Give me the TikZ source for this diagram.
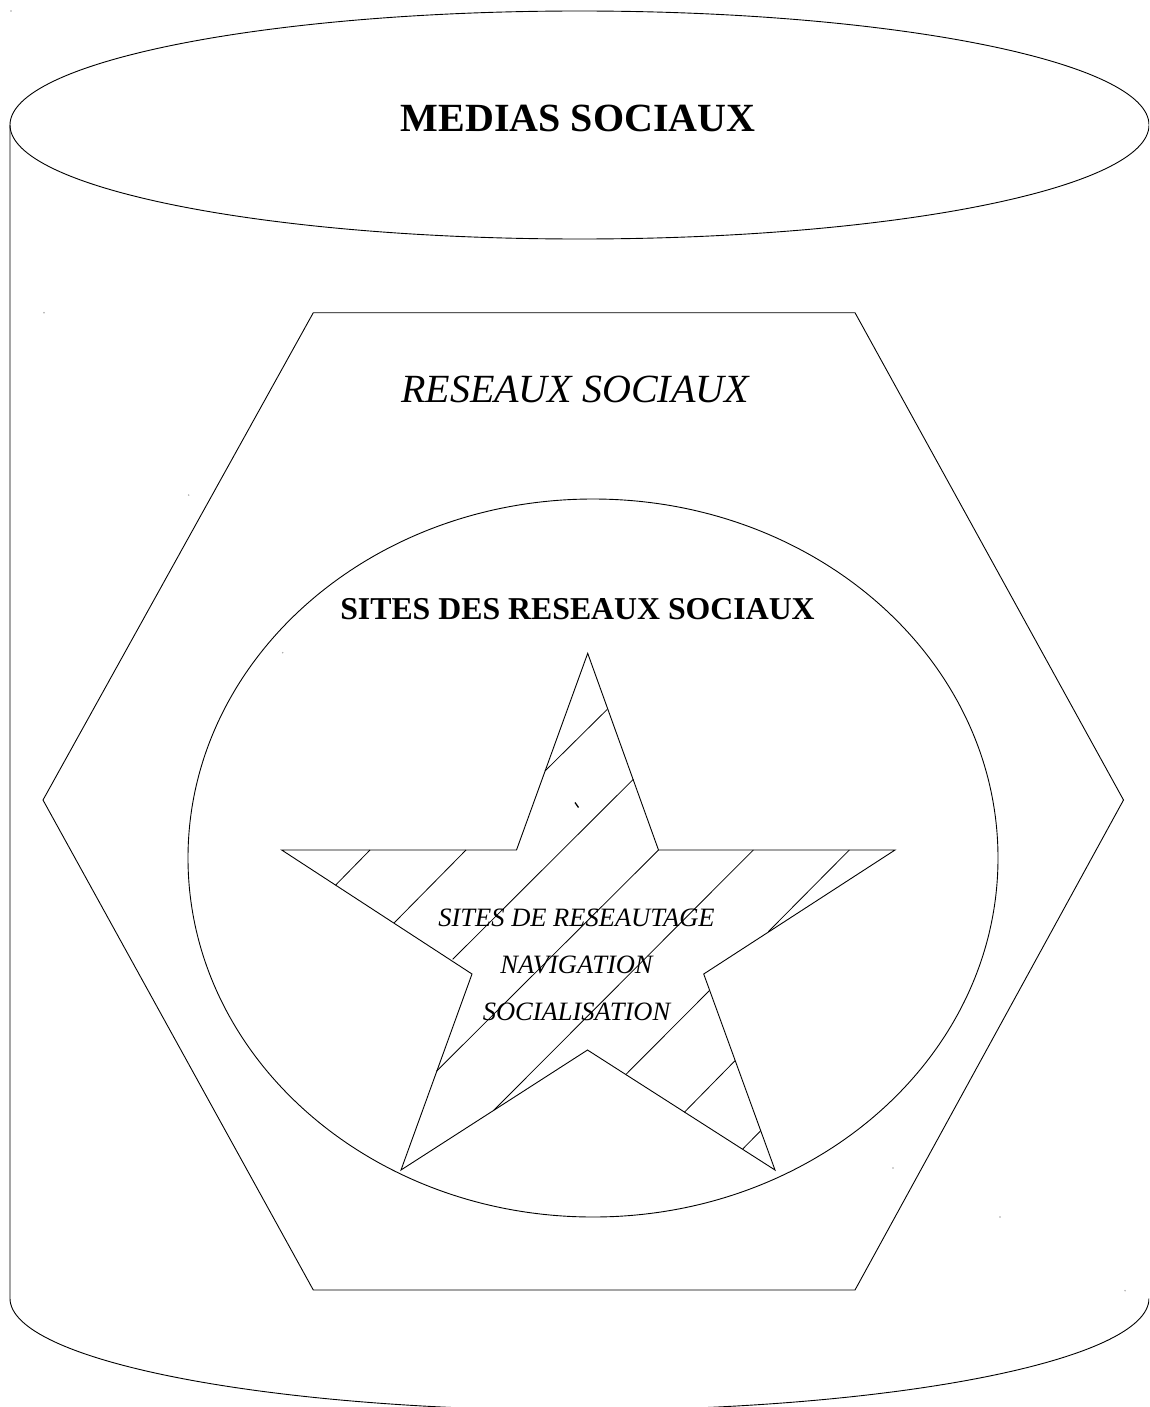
\documentclass[tikz,border=0pt]{standalone}
\usepackage{fontspec}
\setmainfont{Liberation Serif}
\begin{document}
\begin{tikzpicture}[x=1pt,y=-1pt,
  shapeline/.style={draw=black,line width=0.9pt,line join=miter},
  hatchline/.style={draw=black,line width=0.8pt},
  dotmark/.style={fill=gray!70,draw=none},
  titlebig/.style={font=\fontsize{40}{46}\selectfont\bfseries,anchor=base,inner sep=0pt},
  titleital/.style={font=\fontsize{40}{46}\selectfont\itshape,anchor=base,inner sep=0pt},
  titlemid/.style={font=\fontsize{31.8}{38}\selectfont\bfseries,anchor=base,inner sep=0pt},
  startext/.style={font=\fontsize{26.5}{32}\selectfont\itshape,anchor=base,inner sep=0pt}]
\useasboundingbox (0,0) rectangle (1149,1407);
\clip (0,0) rectangle (1149,1407);
\fill[white] (0,0) rectangle (1149,1407);

% cylinder
\draw[shapeline] (579.5,125) ellipse [x radius=569.5pt, y radius=114pt];
\draw[shapeline] (10,125) -- (10,1298.3)
  arc[start angle=180, end angle=360, x radius=569.5pt, y radius=112pt];

% hexagon
\draw[shapeline] (313.3,312.7) -- (855,312.7) -- (1123.5,800) -- (855,1290)
  -- (313.3,1290) -- (43,800) -- cycle;

% inner ellipse
\draw[shapeline] (593,858) ellipse [x radius=405pt, y radius=359pt];

% star
\coordinate (s1) at (587.7,653.3);
\coordinate (s2) at (658.5,850);
\coordinate (s3) at (895,850);
\coordinate (s4) at (703.7,974);
\coordinate (s5) at (775,1170);
\coordinate (s6) at (587.5,1050);
\coordinate (s7) at (401,1170);
\coordinate (s8) at (472,974);
\coordinate (s9) at (281.7,850);
\coordinate (s10) at (516.5,850);
\draw[shapeline] (s1) -- (s2) -- (s3) -- (s4) -- (s5) -- (s6) -- (s7) -- (s8)
  -- (s9) -- (s10) -- cycle;

% hatching
\draw[hatchline] (370,850) -- (335.7,885);
\draw[hatchline] (466,850) -- (394.3,922.7);
\draw[hatchline] (607.3,709.3) -- (545,771);
\draw[hatchline] (633.3,779.3) -- (452.7,959.3);
\draw[hatchline] (s2) -- (436.7,1071);
\draw[hatchline] (753.3,850) -- (494,1110);
\draw[hatchline] (849.3,850) -- (768.3,931.7);
\draw[hatchline] (709.3,990.7) -- (626,1074.3);
\draw[hatchline] (735,1060.7) -- (684.3,1112.3);
\draw[hatchline] (760.7,1130.7) -- (742.7,1149);
\draw[line width=1.3pt] (575,802.5) -- (578.5,807.5);

% stray dots
\foreach \p in {(11,11),(44,312.7),(188.7,495),(282.7,652.7),(893,1168),(1000,1217),(1125,1290.7)}
  \fill[dotmark] \p circle (0.8pt);

% texts
\node[titlebig] (medias) at (578,132) {MEDIAS SOCIAUX};
\node[titleital] (reseaux) at (575,402) {RESEAUX SOCIAUX};
\node[titlemid] (sites) at (577.5,619) {SITES DES RESEAUX SOCIAUX};
\node[startext] (l1) at (576.5,926) {SITES DE RESEAUTAGE};
\node[startext] (l2) at (576.5,973) {NAVIGATION};
\node[startext] (l3) at (576.5,1020) {SOCIALISATION};
\end{tikzpicture}
\end{document}
